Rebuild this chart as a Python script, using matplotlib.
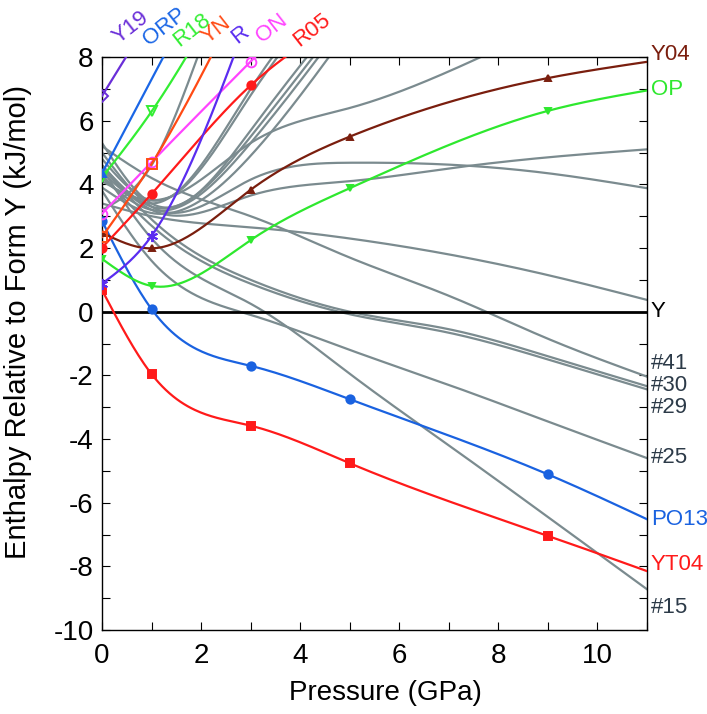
import numpy as np
import matplotlib
matplotlib.use("Agg")
import matplotlib.pyplot as plt

plt.rcParams['font.family'] = ['Liberation Sans', 'DejaVu Sans']
plt.rcParams['axes.unicode_minus'] = False

# pressures (GPa) where markers sit
MARK_P = [0, 1, 3, 5, 9]

# coloured forms: pressures, enthalpies (kJ/mol)
yt04_p = [0, 1, 3, 5, 9, 11]
yt04_h = [0.68, -1.96, -3.58, -4.76, -7.04, -8.15]
po13_p = [0, 1, 3, 5, 9, 11]
po13_h = [2.85, 0.08, -1.70, -2.75, -5.11, -6.52]
op_p = [0, 1, 3, 5, 9, 11]
op_h = [1.66, 0.81, 2.25, 3.88, 6.31, 6.95]
y04_p = [0, 1, 3, 5, 9, 11]
y04_h = [2.48, 1.99, 3.83, 5.50, 7.34, 7.85]
r05_p = [0, 1, 3, 5]
r05_h = [2.01, 3.70, 7.11, 9.3]
on_p = [0, 1, 3, 5]
on_h = [3.08, 4.70, 7.86, 11.0]
r_p = [0, 1, 3]
r_h = [0.88, 2.38, 9.45]
yn_p = [0, 1, 3]
yn_h = [2.35, 4.64, 10.5]
r18_p = [0, 1, 3]
r18_h = [4.22, 6.29, 11.6]
orp_p = [0, 3]
orp_h = [4.35, 13.2]
y19_p = [0, 1]
y19_h = [6.78, 9.3]

# grey (unlabelled / hashed) forms
grey_p = [0, 1, 3, 5, 7, 9, 11]
grey_curves = {
    "b1": [4.4, 3.4, 7.0, 11.0],
    "b2": [4.8, 3.5, 6.8, 10.8],
    "b3": [5.3, 3.4, 5.7, 9.7],
    "b4": [4.6, 3.3, 5.5, 9.5],
    "b5": [4.2, 3.2, 5.3, 9.3],
    "b6": [3.9, 3.1, 4.9, 8.9],
    "g8": [4.1, 3.5, 5.3, 6.4, 7.55, 9.0],
    "F": [4.5, 3.2, 3.65, 4.1, 4.5, 4.85, 5.1],
    "H": [5.0, 3.3, 4.15, 4.68, 4.62, 4.35, 3.88],
    "A": [3.4, 3.0, 2.65, 2.3, 1.8, 1.15, 0.37],
    "#41": [5.2, 4.2, 3.0, 1.7, 0.5, -0.85, -2.04],
    "#30": [4.6, 2.9, 1.0, 0.0, -0.55, -1.4, -2.34],
    "#29": [4.3, 2.7, 0.88, -0.08, -0.66, -1.5, -2.44],
    "#25": [3.8, 1.6, -0.1, -1.2, -2.3, -3.45, -4.6],
    "#15": [4.5, 2.3, 0.25, -1.95, -4.2, -6.45, -8.72],
}
steep_p = [0, 1, 2, 3]
steep_h = [3.2, 4.6, 8.3, 12.5]


def spline(x, y, xs):
    # natural cubic spline, like gnuplot's smooth csplines
    x = np.asarray(x, float)
    y = np.asarray(y, float)
    n = len(x)
    if n == 2:
        return np.interp(xs, x, y)
    h = np.diff(x)
    A = np.zeros((n, n))
    b = np.zeros(n)
    A[0, 0] = 1
    A[-1, -1] = 1
    for i in range(1, n - 1):
        A[i, i - 1] = h[i - 1]
        A[i, i] = 2 * (h[i - 1] + h[i])
        A[i, i + 1] = h[i]
        b[i] = 6 * ((y[i + 1] - y[i]) / h[i] - (y[i] - y[i - 1]) / h[i - 1])
    M = np.linalg.solve(A, b)
    out = np.empty_like(xs)
    for k, t in enumerate(xs):
        i = min(max(np.searchsorted(x, t) - 1, 0), n - 2)
        hi = h[i]
        a = x[i + 1] - t
        c = t - x[i]
        out[k] = (M[i] * a ** 3 / (6 * hi) + M[i + 1] * c ** 3 / (6 * hi)
                  + (y[i] / hi - M[i] * hi / 6) * a
                  + (y[i + 1] / hi - M[i + 1] * hi / 6) * c)
    return out


fig = plt.figure(figsize=(7.07, 7.14), dpi=100)
ax = fig.add_axes([0.1443, 0.1176, 0.7709, 0.8025])

grey = '#7b8b8f'
for name, vals in grey_curves.items():
    p = grey_p[:len(vals)]
    xs = np.linspace(p[0], p[-1], 300)
    ax.plot(xs, spline(p, vals, xs), color=grey, lw=1.6, zorder=2)
xs = np.linspace(steep_p[0], steep_p[-1], 300)
ax.plot(xs, spline(steep_p, steep_h, xs), color=grey, lw=1.6, zorder=2)

ax.axhline(0, color='black', lw=2.0, zorder=3)

series = [
    (yt04_p, yt04_h, '#ff1a1a', 's', True, 6),
    (po13_p, po13_h, '#1a62e0', 'o', True, 6),
    (op_p, op_h, '#2ee82e', 'v', True, 5),
    (y04_p, y04_h, '#7a1e0e', '^', True, 5),
    (r05_p, r05_h, '#ff1a1a', 'o', True, 6),
    (on_p, on_h, '#ff44ff', 'o', False, 7),
    (r_p, r_h, '#5a2cf0', (6, 2, 0), True, 8),
    (yn_p, yn_h, '#ff4a14', 's', False, 7),
    (r18_p, r18_h, '#33ee33', 'v', False, 7),
    (orp_p, orp_h, '#1a66e6', '^', True, 6),
    (y19_p, y19_h, '#6a2ed8', 'D', False, 6),
]
for p, h, col, mk, filled, ms in series:
    xs = np.linspace(p[0], p[-1], 300)
    ax.plot(xs, spline(p, h, xs), color=col, lw=1.6, zorder=4)
    mp = [pp for pp in p if pp in MARK_P]
    mh = [hh for pp, hh in zip(p, h) if pp in MARK_P]
    ax.plot(mp, mh, ls='none', marker=mk, ms=ms, color=col,
            mfc=col if filled else 'none', mew=1.4, zorder=5)

ax.set_xlim(0, 11)
ax.set_ylim(-10, 8)
ax.set_xticks(range(0, 11, 2))
ax.set_xticks(range(0, 12), minor=True)
ax.set_yticks(range(-10, 9, 2))
ax.set_yticks(range(-10, 9), minor=True)
ax.tick_params(which='both', direction='in', top=True, right=True,
               length=6, width=0.8, labelsize=20, pad=9)
ax.tick_params(axis='y', pad=6)
for s in ax.spines.values():
    s.set_linewidth(1.0)

ax.set_xlabel('Pressure (GPa)', fontsize=20)
ax.xaxis.set_label_coords(0.52, -0.088)
ax.set_ylabel('Enthalpy Relative to Form Y (kJ/mol)', fontsize=21)
ax.yaxis.set_label_coords(-0.128, 0.537)

# right-hand labels
right_labels = ['Y04', 'OP', 'Y', '#41', '#30', '#29', '#25', 'PO13', 'YT04', '#15']
right_pos = [8.07, 6.97, 0.0, -1.62, -2.32, -3.01, -4.58, -6.53, -7.94, -9.29]
right_cols = ['#7a1e0e', '#2ee82e', 'black', '#2c3a48', '#2c3a48', '#2c3a48',
              '#2c3a48', '#1a62e0', '#ff1a1a', '#2c3a48']
for t, yv, c in zip(right_labels, right_pos, right_cols):
    ax.text(11.08, yv, t, color=c, fontsize=16, ha='left', va='center',
            clip_on=False)

# top labels
top_labels = ['Y19', 'ORP', 'R18', 'YN', 'R', 'ON', 'R05']
top_x = [0.33, 0.95, 1.55, 2.12, 2.72, 3.22, 3.97]
top_y = [8.4, 8.35, 8.3, 8.4, 8.4, 8.45, 8.3]
top_cols = ['#6a2ed8', '#1a66e6', '#33ee33', '#ff4a14', '#5a2cf0', '#ff44ff', '#ff1a1a']
for t, xv, yv, c in zip(top_labels, top_x, top_y, top_cols):
    ax.text(xv, yv, t, color=c, fontsize=16, rotation=38, ha='left',
            va='baseline', rotation_mode='anchor', clip_on=False)

fig.savefig('out.png', dpi=100)
